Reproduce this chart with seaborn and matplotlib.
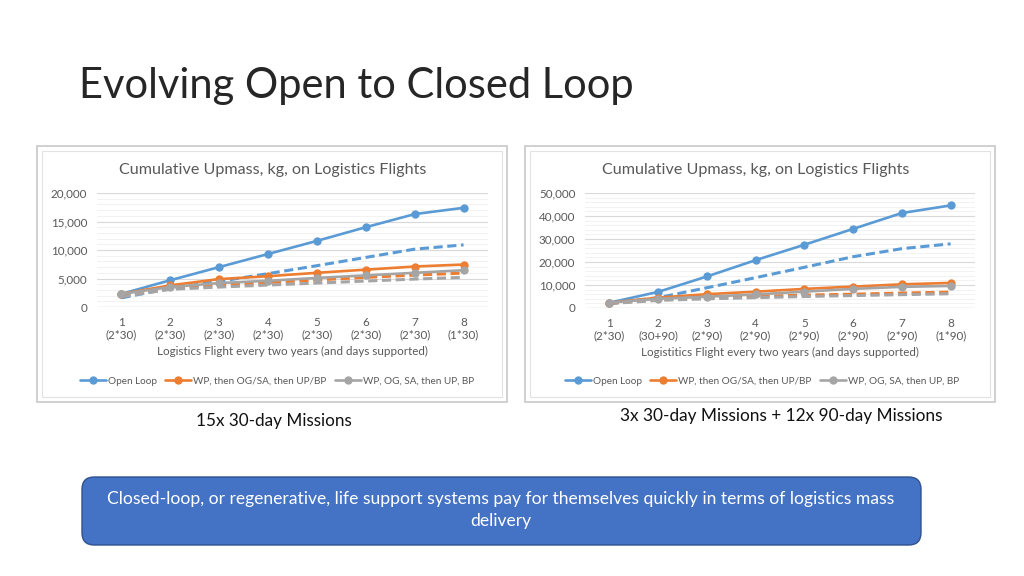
import matplotlib
matplotlib.use("Agg")
import matplotlib.pyplot as plt
from matplotlib.patches import FancyBboxPatch, Rectangle
from matplotlib.lines import Line2D
import seaborn as sns
import pandas as pd

# categories
flights = [1, 2, 3, 4, 5, 6, 7, 8]
days_left = ["(2*30)", "(2*30)", "(2*30)", "(2*30)", "(2*30)", "(2*30)", "(2*30)", "(1*30)"]
days_right = ["(2*30)", "(30+90)", "(2*90)", "(2*90)", "(2*90)", "(2*90)", "(2*90)", "(1*90)"]

# left chart: 15x 30-day missions
left_open = [2300, 4700, 7000, 9300, 11600, 14000, 16300, 17400]
left_open_dash = [1600, 3300, 4500, 5850, 7250, 8700, 10150, 10900]
left_wp = [2300, 3800, 4900, 5400, 6000, 6550, 7100, 7450]
left_wp_dash = [2000, 3300, 3900, 4300, 4750, 5200, 5600, 5950]
left_og = [2300, 3500, 4200, 4600, 5100, 5550, 6000, 6450]
left_og_dash = [1800, 3100, 3500, 3850, 4200, 4550, 4900, 5200]

# right chart: 3x 30-day + 12x 90-day missions
right_open = [2300, 7000, 13700, 20800, 27500, 34400, 41300, 44600]
right_open_dash = [2000, 4500, 8800, 13200, 17700, 22300, 25800, 27900]
right_wp = [2300, 4500, 6000, 7100, 8300, 9300, 10300, 10900]
right_wp_dash = [2000, 3700, 4500, 5000, 5600, 6000, 6500, 6900]
right_og = [2300, 4000, 4900, 5900, 7100, 8300, 9200, 9600]
right_og_dash = [1900, 3300, 4000, 4500, 5000, 5400, 5800, 6200]

series_names = ["Open Loop", "WP, then OG/SA, then UP/BP", "WP, OG, SA, then UP, BP"]
colors = ["#5B9BD5", "#ED7D31", "#A5A5A5"]

sns.set_theme(style="white")
plt.rcParams["font.family"] = ["Lato", "DejaVu Sans"]

fig = plt.figure(figsize=(10.24, 5.76), dpi=100)
W, H = 1024, 576


def fx(px):
    return px / W


def fy(py):
    return 1 - py / H


# slide title
fig.text(fx(79), fy(86), "Evolving Open to Closed Loop", fontsize=30, color="#262626",
         ha="left", va="center")

# picture frames
for x0, x1 in [(37, 507), (525, 995)]:
    fig.patches.append(Rectangle((fx(x0), fy(402)), fx(x1 - x0), (402 - 146) / H,
                                 transform=fig.transFigure, facecolor="white",
                                 edgecolor="#c8c8c8", linewidth=1.2, zorder=-2))
    fig.patches.append(Rectangle((fx(x0 + 5), fy(397)), fx(x1 - x0 - 10), (397 - 151) / H,
                                 transform=fig.transFigure, facecolor="white",
                                 edgecolor="#e2e2e2", linewidth=0.8, zorder=-1))


def draw_chart(ax, solid, dashed, labels, ymax, ystep, minor, xlabel, title_x, legend_x):
    for vals, c in zip(dashed, colors):
        df = pd.DataFrame({"flight": flights, "mass": vals})
        sns.lineplot(data=df, x="flight", y="mass", ax=ax, color=c, linestyle=(0, (3.0, 1.5)),
                     linewidth=2.2, zorder=2)
    for vals, c in zip(solid, colors):
        df = pd.DataFrame({"flight": flights, "mass": vals})
        sns.lineplot(data=df, x="flight", y="mass", ax=ax, color=c, linewidth=1.9,
                     marker="o", markersize=6, markeredgewidth=0, zorder=3)
    ax.set_xlim(0.5, 8.5)
    ax.set_ylim(0, ymax)
    ax.set_yticks(range(0, ymax + 1, ystep))
    ax.set_yticks(range(0, ymax + 1, minor), minor=True)
    ax.yaxis.set_major_formatter(plt.FuncFormatter(lambda v, _: f"{int(v):,}"))
    ax.set_xticks(flights)
    ax.set_xticklabels([f"{f}\n{d}" for f, d in zip(flights, labels)], linespacing=1.15)
    ax.grid(axis="y", which="major", color="#d9d9d9", linewidth=0.8)
    ax.grid(axis="y", which="minor", color="#f0f0f0", linewidth=0.6)
    ax.set_axisbelow(True)
    for s in ax.spines.values():
        s.set_visible(False)
    ax.axhline(0, color="#d0d0d0", linewidth=0.9, zorder=1)
    ax.tick_params(axis="both", which="both", length=0, labelsize=8.4, labelcolor="#595959")
    ax.tick_params(axis="x", pad=7)
    ax.tick_params(axis="y", pad=7)
    ax.set_xlabel(xlabel, fontsize=8.4, color="#595959", labelpad=4)
    ax.set_ylabel("")
    fig.text(fx(title_x), fy(170), "Cumulative Upmass, kg, on Logistics Flights", fontsize=11.6,
             color="#595959", ha="center", va="center")
    handles = [Line2D([], [], color=c, linewidth=1.9, marker="o", markersize=6,
                      markeredgewidth=0) for c in colors]
    fig.legend(handles, series_names, loc="center", bbox_to_anchor=(fx(legend_x), fy(381)),
               ncol=3, frameon=False, fontsize=7.2, handlelength=2.6, handletextpad=0.2,
               columnspacing=0.8, labelcolor="#595959")


ax1 = fig.add_axes([fx(97), fy(307), fx(488 - 97), (307 - 193) / H])
ax1.patch.set_alpha(0)
draw_chart(ax1, [left_open, left_wp, left_og], [left_open_dash, left_wp_dash, left_og_dash],
           days_left, 20000, 5000, 1000,
           "Logistics Flight every two years (and days supported)", 273, 277)

ax2 = fig.add_axes([fx(585), fy(308), fx(975 - 585), (308 - 193) / H])
ax2.patch.set_alpha(0)
draw_chart(ax2, [right_open, right_wp, right_og], [right_open_dash, right_wp_dash, right_og_dash],
           days_right, 50000, 10000, 2000,
           "Logistitics Flight every two years (and days supported)", 756, 762)

# captions
fig.text(fx(196), fy(421), "15x 30-day Missions", fontsize=12.3, color="#111111",
         ha="left", va="center")
fig.text(fx(620), fy(416), "3x 30-day Missions + 12x 90-day Missions", fontsize=12.4,
         color="#111111", ha="left", va="center")

# summary box
box = FancyBboxPatch((fx(82), fy(545)), fx(921 - 82), (545 - 477) / H,
                     boxstyle="round,pad=0,rounding_size=0.012", transform=fig.transFigure,
                     facecolor="#4472C4", edgecolor="#2F528F", linewidth=1.0,
                     mutation_aspect=W / H)
fig.patches.append(box)
fig.text(fx(501), fy(510),
         "Closed-loop, or regenerative, life support systems pay for themselves quickly in terms of logistics mass\ndelivery",
         fontsize=12.6, color="white", ha="center", va="center", linespacing=1.45)

fig.savefig("out.png", dpi=100)
